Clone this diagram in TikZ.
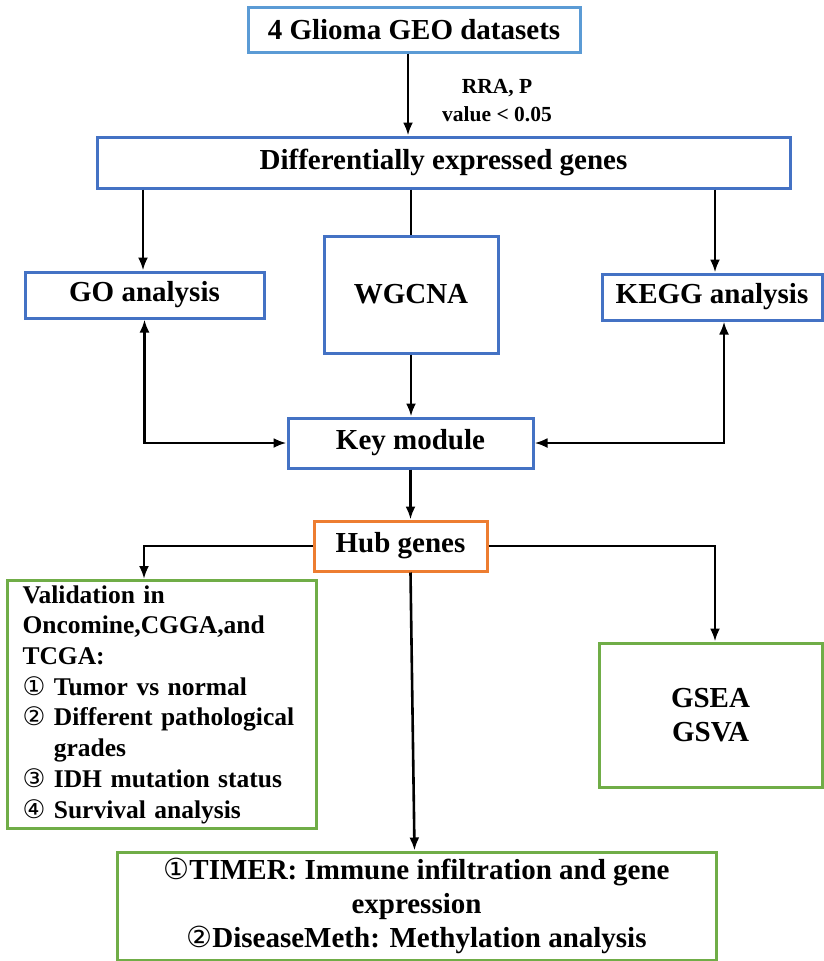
\documentclass[tikz,border=0pt]{standalone}
\usepackage{fontspec}
\setmainfont{Liberation Serif}
\newfontfamily\dejavu{DejaVu Sans}
\usetikzlibrary{arrows.meta}
\definecolor{lblue}{RGB}{91,155,213}
\definecolor{dblue}{RGB}{68,114,196}
\definecolor{orng}{RGB}{237,125,49}
\definecolor{grn}{RGB}{112,173,71}
\newcommand{\circd}[1]{{\dejavu\mdseries #1}}
\begin{document}
\begin{tikzpicture}[x=1pt,y=-1pt,
  box/.style={draw, line width=3pt, inner sep=0pt, align=center,
    font=\fontsize{29}{34}\selectfont\bfseries},
  arr/.style={line width=2.6pt, -{Latex[length=13pt,width=10pt]}},
  dbl/.style={line width=2.6pt, {Latex[length=13pt,width=10pt]}-{Latex[length=13pt,width=10pt]}},
  ln/.style={line width=2.6pt}]
\useasboundingbox (0,0) rectangle (824,961);
\node (top) [box, lblue, text=black, minimum width=332pt, minimum height=45pt] at (414,29.5) {4 Glioma GEO datasets};
\node (deg) [box, dblue, text=black, minimum width=693pt, minimum height=51pt] at (443.5,162.5) {Differentially expressed genes};
\node (go) [box, dblue, text=black, minimum width=239pt, minimum height=46pt] at (144.5,295) {GO analysis};
\node (wgcna) [box, dblue, text=black, minimum width=174pt, minimum height=117pt] at (411,294.5) {WGCNA};
\node (kegg) [box, dblue, text=black, minimum width=220pt, minimum height=46pt] at (712,297) {KEGG analysis};
\node (key) [box, dblue, text=black, minimum width=245pt, minimum height=50pt] at (410.5,443) {Key module};
\node (hub) [box, orng, text=black, minimum width=173pt, minimum height=50pt] at (400.5,546) {Hub genes};
\node (val) [box, grn, text=black, anchor=north west, minimum width=309pt, minimum height=248pt,
  text width=279pt, inner xsep=15pt, align=left, font=\fontsize{25.5}{30.7}\selectfont\bfseries] at (6,579)
  {Validation in\\Oncomine,CGGA,and\\TCGA:\\\circd{①} Tumor vs normal\\\circd{②} Different pathological\\\phantom{\circd{②} }grades\\\circd{③} IDH mutation status\\\circd{④} Survival analysis};
\node (gsea) [box, grn, text=black, minimum width=223pt, minimum height=144pt] at (710.5,715) {GSEA\\GSVA};
\node (bot) [box, grn, text=black, minimum width=599pt, minimum height=108pt] at (416.5,906)
  {\circd{①}TIMER: Immune infiltration and gene\\expression\\\circd{②}DiseaseMeth: Methylation analysis};
\node (lab) [font=\fontsize{21.5}{28}\selectfont\bfseries, align=center] at (497,101) {RRA, P\\value < 0.05};
% connectors
\draw[arr] ([xshift=-6pt]top.south) -- ([xshift=-6pt]top.south |- deg.north);
\draw[arr] ([xshift=-1.5pt]go.north |- deg.south) -- ([xshift=-1.5pt]go.north);
\draw[ln] (wgcna.north |- deg.south) -- (wgcna.north);
\draw[arr] ([xshift=3pt]kegg.north |- deg.south) -- ([xshift=3pt]kegg.north);
\draw[arr] (wgcna.south) -- (wgcna.south |- key.north);
\draw[dbl] (go.south) -- (go.south |- key.west) -- (key.west);
\draw[dbl] ([xshift=12pt]kegg.south) -- ([xshift=12pt]kegg.south |- key.east) -- (key.east);
\draw[arr] (key.south) -- (key.south |- hub.north);
\draw[arr] (hub.west) -| ([xshift=-18pt]val.north);
\draw[arr] (hub.east) -| ([xshift=4.5pt]gsea.north);
\draw[arr] ([xshift=10pt]hub.south) -- ([xshift=-2pt]bot.north);
\end{tikzpicture}
\end{document}
